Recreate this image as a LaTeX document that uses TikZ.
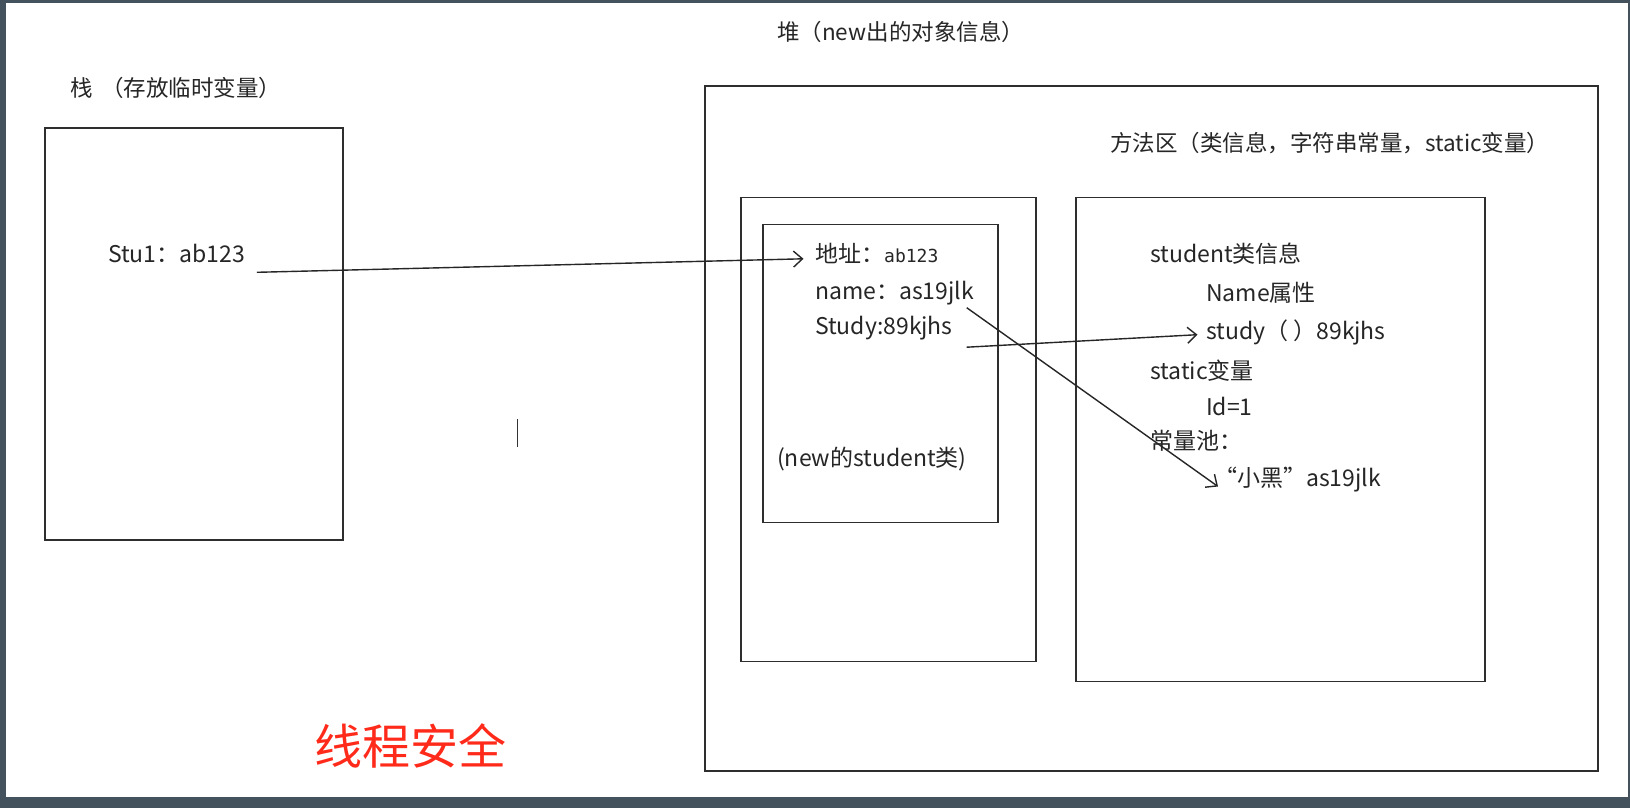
\documentclass[tikz,border=0pt]{standalone}
\usepackage{fontspec}
\setmainfont{Noto Sans CJK SC}
\newfontfamily\monof{DejaVu Sans Mono}
\usetikzlibrary{arrows.meta}
\definecolor{frame}{HTML}{44525E}
\definecolor{boxline}{HTML}{2E2E2E}
\definecolor{redtxt}{HTML}{FF2A1A}
\tikzset{
  box/.style={draw=boxline, line width=1.8pt, fill=none, inner sep=0pt, anchor=north west},
  txt/.style={anchor=west, inner sep=0pt, font=\fontsize{23}{27}\selectfont, text=black!85},
  ttl/.style={anchor=west, inner sep=0pt, font=\fontsize{22.5}{27}\selectfont, text=black!85},
  conn/.style={draw=black!85, line width=1.4pt, -{Straight Barb[length=9pt,width=16pt,line width=1.4pt]}},
}
\begin{document}
\begin{tikzpicture}[x=1pt,y=-1pt]
\useasboundingbox (0,0) rectangle (1630,808);
\fill[frame] (0,0) rectangle (1630,808);
\fill[white] (6,3.5) rectangle (1628,797);

% titles
\node[ttl] (stacktitle) at (70,88) {栈 \,（存放临时变量）};
\node[ttl] (heaptitle) at (777,32) {堆（new出的对象信息）};
\node[ttl] (methodtitle) at (1110,143.5) {方法区（类信息，字符串常量，static变量）};

% boxes
\node[box, minimum width=298pt, minimum height=412pt] (stack) at (43.7,126.8) {};
\node[box, minimum width=893pt, minimum height=685pt] (heap) at (703.8,85.2) {};
\node[box, minimum width=295pt, minimum height=464pt] (heapin) at (740,196.5) {};
\node[box, minimum width=235pt, minimum height=298pt] (obj) at (762,223.5) {};
\node[box, minimum width=409pt, minimum height=484pt] (method) at (1075,196.5) {};

% stack text
\node[txt] (stu) at (108,253.6) {Stu1：ab123};

% object text
\node[txt] (addr) at (815,253.6) {地址：{\monof\fontsize{18}{20}\selectfont ab123}};
\node[txt] (name) at (815,293) {name：as19jlk};
\node[txt] (study) at (815,328.5) {Study:89kjhs};
\node[txt] (newstu) at (777,459.5) {(new的student类)};

% method area text
\node[txt] (cls) at (1150,253.6) {student类信息};
\node[txt] (nameattr) at (1206,293) {Name属性};
\node[txt] (studym) at (1206,332.6) {study（ ）89kjhs};
\node[txt] (staticv) at (1150,371) {static变量};
\node[txt] (idv) at (1206,406.5) {Id=1};
\node[txt] (pool) at (1150,440.7) {常量池：};
\node[txt] (xiaohei) at (1214,480) {“小黑”as19jlk};

% red label
\node[anchor=west, inner sep=0pt, text=redtxt, font=\fontsize{48}{54}\selectfont] (safe) at (314,746) {线程安全};

% cursor mark
\draw[line width=1.2pt, black!80] (517.7,419) -- (517.7,447);

% connectors
\coordinate (a1s) at (256.8,272.3);
\coordinate (a1e) at (803.5,258.8);
\coordinate (a2s) at (966.7,347.2);
\coordinate (a2e) at (1197.5,334.7);
\coordinate (a3s) at (966.7,307.7);
\coordinate (a3e) at (1218,486.5);
\draw[conn] (a1s) -- (a1e);
\draw[conn] (a2s) -- (a2e);
\draw[conn] (a3s) -- (a3e);
\end{tikzpicture}
\end{document}
